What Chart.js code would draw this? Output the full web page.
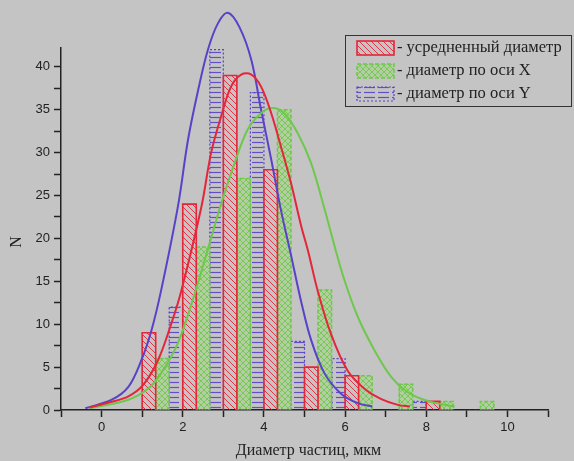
<!DOCTYPE html>
<html>
<head>
<meta charset="utf-8">
<script src="https://cdn.jsdelivr.net/npm/chart.js@4.4.1/dist/chart.umd.min.js"></script>
<style>
  html, body { margin: 0; padding: 0; background: #c4c4c4; }
  #wrap { width: 574px; height: 461px; }
</style>
</head>
<body>
<div id="wrap"><canvas id="histChart" width="574" height="461"></canvas></div>
<script>
// центры интервалов гистограммы, мкм
const binCenters = [1.5, 2.5, 3.5, 4.5, 5.5, 6.5, 7.5, 8.5, 9.5];
// число частиц в интервале
const countAvg = [9, 24, 39, 28, 5, 4, 0, 1, 0];
const countX   = [6, 19, 27, 35, 14, 4, 3, 1, 1];
const countY   = [12, 42, 37, 8, 6, 0, 1, 0, 0];

// аппроксимирующие кривые, точки
const fitAvgX = [-0.3, 0.2, 0.66, 1.02, 1.39, 1.72, 1.97, 2.46, 2.7, 2.95, 3.19, 3.44, 3.69, 3.93, 4.18, 4.42, 4.67, 4.91, 5.1, 5.32, 5.65, 6.06, 6.47, 6.88, 7.3, 7.6];
const fitAvgN = [0.3, 0.9, 1.6, 2.9, 5.8, 10.1, 14.0, 23.7, 30.0, 34.3, 37.7, 39.1, 39.1, 37.7, 34.6, 30.7, 26.4, 21.6, 18.3, 14.0, 8.9, 4.6, 2.5, 1.3, 0.6, 0.4];

const fitXX = [-0.3, 0.66, 1.15, 1.47, 1.88, 2.29, 2.66, 2.95, 3.28, 3.6, 3.93, 4.2, 4.5, 4.83, 5.16, 5.49, 5.77, 5.98, 6.31, 6.72, 7.13, 7.53, 7.94, 8.35, 8.7];
const fitXN = [0.2, 1.2, 2.5, 4.3, 7.8, 13.5, 19.4, 24.1, 28.8, 32.7, 34.6, 35.2, 34.6, 32.3, 28.8, 23.5, 18.6, 15.2, 10.9, 7.0, 3.9, 2.1, 1.2, 0.7, 0.4];

const fitYX = [-0.4, 0.25, 0.66, 0.98, 1.23, 1.47, 1.88, 2.13, 2.38, 2.62, 2.87, 3.11, 3.4, 3.69, 3.93, 4.18, 4.42, 4.67, 4.91, 5.16, 5.49, 5.9, 6.31, 6.67];
const fitYN = [0.2, 1.2, 2.7, 5.8, 9.3, 14.0, 23.7, 31.5, 37.3, 42.0, 45.1, 46.3, 44.6, 40.8, 35.0, 29.2, 23.3, 18.0, 12.8, 8.2, 4.3, 1.9, 0.8, 0.4];

const legendLabels = ['- усредненный диаметр', '- диаметр по оси X', '- диаметр по оси Y'];
const xTitle = 'Диаметр частиц, мкм';
const yTitle = 'N';

const RED = 'rgb(228, 38, 58)';
const GREEN = 'rgb(110, 200, 75)';
const BLUE = 'rgb(88, 66, 200)';
const BG = '#c4c4c4';

function toPoints(xs, ys) {
    return xs.map((x, i) => ({ x: x, y: ys[i] }));
}

// штриховки столбцов
function makePattern(kind) {
    const c = document.createElement('canvas');
    const p = c.getContext('2d');
    if (kind === 'hatch') {
        c.width = 6; c.height = 6;
        p.strokeStyle = 'rgba(228, 38, 58, 0.9)';
        p.lineWidth = 1;
        p.beginPath();
        p.moveTo(-1, -1); p.lineTo(7, 7);
        p.moveTo(-1, 5); p.lineTo(1, 7);
        p.moveTo(5, -1); p.lineTo(7, 1);
        p.stroke();
    } else if (kind === 'cross') {
        c.width = 6; c.height = 6;
        p.fillStyle = 'rgba(165, 215, 135, 0.55)';
        p.fillRect(0, 0, 6, 6);
        p.fillStyle = 'rgba(115, 200, 80, 0.9)';
        for (let i = 0; i < 6; i += 1) {
            p.fillRect(i, i, 1, 1);
            p.fillRect(5 - i, i, 1, 1);
        }
    } else {
        c.width = 14; c.height = 5;
        p.strokeStyle = 'rgba(88, 66, 200, 0.9)';
        p.lineWidth = 1.2;
        p.beginPath();
        p.moveTo(0, 2.5); p.lineTo(11, 2.5);
        p.stroke();
    }
    return p.createPattern(c, 'repeat');
}

const patAvg = makePattern('hatch');
const patX = makePattern('cross');
const patY = makePattern('lines');

// контуры столбцов (сплошной / штриховой / пунктирный)
const outlinePlugin = {
    id: 'outlines',
    afterDatasetDraw(chart, args) {
        const ds = chart.data.datasets[args.index];
        if (!ds.outline) return;
        const ctx = chart.ctx;
        ctx.save();
        ctx.strokeStyle = ds.outline.color;
        ctx.lineWidth = ds.outline.width;
        ctx.setLineDash(ds.outline.dash);
        args.meta.data.forEach((bar, i) => {
            if (!ds.data[i].y) return;
            const half = bar.width / 2;
            ctx.beginPath();
            ctx.moveTo(bar.x - half, bar.base);
            ctx.lineTo(bar.x - half, bar.y);
            ctx.lineTo(bar.x + half, bar.y);
            ctx.lineTo(bar.x + half, bar.base);
            ctx.stroke();
        });
        ctx.restore();
    }
};

// подписи осей и легенда в рамке
const decorPlugin = {
    id: 'decor',
    afterDraw(chart) {
        const ctx = chart.ctx;
        const area = chart.chartArea;
        ctx.save();
        ctx.fillStyle = '#222';
        ctx.font = '16px "Liberation Serif"';
        ctx.textAlign = 'center';
        ctx.textBaseline = 'middle';
        ctx.fillText(xTitle, (area.left + area.right) / 2 + 4, 451);
        ctx.save();
        ctx.translate(17, 242);
        ctx.rotate(-Math.PI / 2);
        ctx.fillText(yTitle, 0, 0);
        ctx.restore();

        // рамка легенды
        ctx.fillStyle = BG;
        ctx.fillRect(345, 35, 227, 72);
        ctx.strokeStyle = '#333';
        ctx.lineWidth = 1;
        ctx.strokeRect(345.5, 35.5, 226, 71);

        const rows = [48, 71, 94];
        ctx.font = '16.5px "Liberation Serif"';
        chart.data.datasets.slice(0, 3).forEach((ds, i) => {
            const y = rows[i] - 7;
            ctx.fillStyle = ds.backgroundColor;
            ctx.fillRect(357, y, 37, 14);
            ctx.strokeStyle = ds.outline.color;
            ctx.lineWidth = ds.outline.width;
            ctx.setLineDash(ds.outline.dash);
            ctx.strokeRect(357, y, 37, 14);
            ctx.setLineDash([]);
            ctx.fillStyle = '#222';
            ctx.textAlign = 'left';
            ctx.fillText(legendLabels[i], 397, rows[i]);
        });
        ctx.restore();
    }
};

Chart.defaults.font.family = '"Liberation Sans", Arial, sans-serif';

const barCommon = {
    type: 'bar',
    order: 1,
    borderWidth: 0,
    categoryPercentage: 1,
    barPercentage: 1,
    grouped: true
};
const lineCommon = {
    type: 'line',
    order: 0,
    borderWidth: 2,
    pointRadius: 0,
    fill: false,
    tension: 0.35,
    clip: false
};

const chart = new Chart(document.getElementById('histChart'), {
    type: 'bar',
    data: {
        datasets: [
            Object.assign({}, barCommon, {
                label: legendLabels[0],
                data: toPoints(binCenters, countAvg),
                backgroundColor: patAvg,
                outline: { color: RED, width: 1.6, dash: [] }
            }),
            Object.assign({}, barCommon, {
                label: legendLabels[1],
                data: toPoints(binCenters, countX),
                backgroundColor: patX,
                outline: { color: GREEN, width: 1.5, dash: [4, 2] }
            }),
            Object.assign({}, barCommon, {
                label: legendLabels[2],
                data: toPoints(binCenters, countY),
                backgroundColor: patY,
                outline: { color: BLUE, width: 1.2, dash: [2, 2] }
            }),
            Object.assign({}, lineCommon, { label: 'fitAvg', data: toPoints(fitAvgX, fitAvgN), borderColor: RED }),
            Object.assign({}, lineCommon, { label: 'fitX', data: toPoints(fitXX, fitXN), borderColor: GREEN }),
            Object.assign({}, lineCommon, { label: 'fitY', data: toPoints(fitYX, fitYN), borderColor: BLUE })
        ]
    },
    options: {
        responsive: false,
        animation: false,
        events: [],
        layout: { padding: { top: 48, right: 26, left: 0, bottom: 0 } },
        plugins: {
            legend: { display: false },
            tooltip: { enabled: false }
        },
        scales: {
            x: {
                type: 'linear',
                min: -1,
                max: 11,
                offset: false,
                ticks: {
                    stepSize: 1,
                    includeBounds: false,
                    autoSkip: false,
                    maxRotation: 0,
                    padding: 3,
                    color: '#222',
                    font: { size: 13 },
                    callback: v => (v % 2 === 0 ? v : '')
                },
                grid: { offset: false, drawOnChartArea: false, tickLength: 7, tickWidth: 1.5, tickColor: '#222' },
                border: { color: '#222', width: 1.5 },
                afterFit: s => { s.height = 51; }
            },
            y: {
                min: 0,
                max: 42.2,
                ticks: {
                    stepSize: 2.5,
                    includeBounds: false,
                    padding: 4,
                    color: '#222',
                    font: { size: 13 },
                    callback: v => (v % 5 === 0 ? v : '')
                },
                grid: { drawOnChartArea: false, tickLength: 7, tickWidth: 1.5, tickColor: '#222' },
                border: { color: '#222', width: 1.5 },
                afterFit: s => { s.width = 61; }
            }
        }
    },
    plugins: [outlinePlugin, decorPlugin]
});
</script>
</body>
</html>
